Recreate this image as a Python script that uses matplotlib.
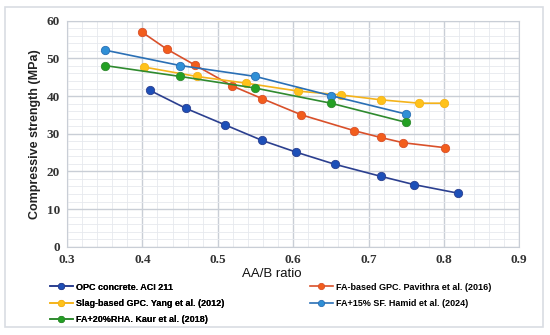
import matplotlib.pyplot as plt
from matplotlib.patches import Rectangle
from matplotlib.ticker import MultipleLocator

# data
opc_x = [0.41, 0.458, 0.509, 0.559, 0.604, 0.655, 0.716, 0.760, 0.819]
opc_y = [41.5, 36.7, 32.4, 28.2, 25.1, 21.9, 18.7, 16.5, 14.2]

fa_x = [0.40, 0.432, 0.470, 0.519, 0.559, 0.611, 0.681, 0.716, 0.746, 0.801]
fa_y = [56.9, 52.5, 48.2, 42.7, 39.3, 35.0, 30.8, 29.0, 27.6, 26.3]

slag_x = [0.402, 0.472, 0.538, 0.607, 0.663, 0.716, 0.767, 0.800]
slag_y = [47.7, 45.2, 43.4, 41.3, 40.3, 39.0, 38.1, 38.1]

sf_x = [0.35, 0.45, 0.55, 0.65, 0.75]
sf_y = [52.2, 48.1, 45.2, 40.1, 35.2]

rha_x = [0.35, 0.45, 0.55, 0.65, 0.75]
rha_y = [48.1, 45.2, 42.1, 38.1, 33.0]

fig = plt.figure(figsize=(5.5, 3.35), dpi=100)
ax = fig.add_axes([67 / 550, 1 - 246.7 / 335, (519.3 - 67) / 550, (246.7 - 20.7) / 335])

# outer light border like the exported figure frame
fig.patches.append(Rectangle((5 / 550, 1 - 327 / 335), 538 / 550, 320 / 335,
                             transform=fig.transFigure, fill=False,
                             edgecolor='#d9dde3', linewidth=1.2))

series = [
    (opc_x, opc_y, '#2b3f8f', '#1d4fb8', 'OPC concrete. ACI 211'),
    (fa_x, fa_y, '#d9502a', '#f25d1c', 'FA-based GPC. Pavithra et al. (2016)'),
    (slag_x, slag_y, '#f4b31b', '#ffc21a', 'Slag-based GPC. Yang et al. (2012)'),
    (sf_x, sf_y, '#2a6fb5', '#2f8fd6', 'FA+15% SF. Hamid et al. (2024)'),
    (rha_x, rha_y, '#2f8a2f', '#23a023', 'FA+20%RHA. Kaur et al. (2018)'),
]
handles = []
for xs, ys, lc, mc, lab in series:
    h, = ax.plot(xs, ys, color=lc, linewidth=1.2, marker='o', markersize=6,
                 markerfacecolor=mc, markeredgecolor=lc, markeredgewidth=0.6,
                 label=lab, zorder=3)
    handles.append(h)

ax.set_xlim(0.3, 0.9)
ax.set_ylim(0, 60)
ax.xaxis.set_major_locator(MultipleLocator(0.1))
ax.xaxis.set_minor_locator(MultipleLocator(0.02))
ax.yaxis.set_major_locator(MultipleLocator(10))
ax.yaxis.set_minor_locator(MultipleLocator(2))
ax.grid(which='major', color='#c9ced6', linewidth=1.0)
ax.grid(which='minor', color='#e6e9ee', linewidth=0.6)
ax.set_axisbelow(True)
for s in ax.spines.values():
    s.set_color('#c9ced6')
ax.tick_params(which='both', length=0, pad=5)
for lbl in ax.get_xticklabels() + ax.get_yticklabels():
    lbl.set_family('Liberation Serif')
    lbl.set_fontweight('bold')
    lbl.set_fontsize(9.5)
    lbl.set_color('#333333')

ax.set_ylabel('Compressive strength (MPa)', family='Liberation Sans', fontsize=9,
              fontweight='bold', color='#222222')
ax.yaxis.set_label_coords(-(67 - 41) / 452, 0.5)
ax.set_xlabel('AA/B ratio', family='Liberation Sans', fontsize=9.5, color='#111111')
ax.xaxis.set_label_coords((272 - 67) / 452, -(268 - 246.7) / 226)

# two legend columns placed like the reference rows
leg_kw = dict(loc='upper left', frameon=False, markerscale=0.75,
              prop={'family': 'Liberation Sans', 'size': 6.5, 'weight': 'bold'},
              handlelength=2.5, labelspacing=0.8, handletextpad=0.35,
              borderaxespad=0, borderpad=0)
left = [0, 2, 4]
right = [1, 3]
leg1 = fig.legend([handles[i] for i in left], [series[i][4] for i in left],
                  bbox_to_anchor=(50 / 550, 1 - 282.5 / 335), **leg_kw)
fig.add_artist(leg1)
fig.legend([handles[i] for i in right], [series[i][4] for i in right],
           bbox_to_anchor=(310 / 550, 1 - 282.5 / 335), **leg_kw)

plt.savefig('out.png', dpi=100)
